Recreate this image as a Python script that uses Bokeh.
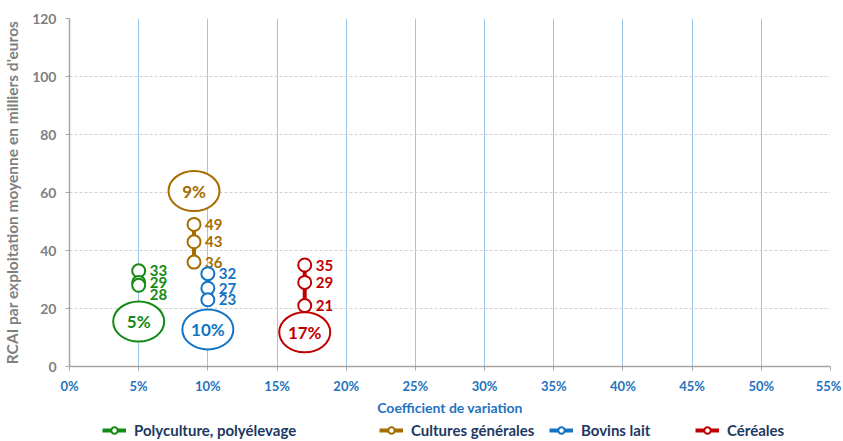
from bokeh.plotting import figure
from bokeh.layouts import column
from bokeh.models import (ColumnDataSource, Legend, LegendItem, FixedTicker,
                          NumeralTickFormatter, Range1d)
from bokeh.core.properties import value
from bokeh.embed import file_html
from bokeh.resources import INLINE

# ---- data ----
series = ["Polyculture, polyélevage", "Cultures générales", "Bovins lait", "Céréales"]
cv = [0.05, 0.09, 0.10, 0.17]
cv_labels = ["5%", "9%", "10%", "17%"]
rcai_high = [33, 49, 32, 35]
rcai_mid = [29, 43, 27, 29]
rcai_low = [28, 36, 23, 21]
x_ticks = [0, 0.05, 0.10, 0.15, 0.20, 0.25, 0.30, 0.35, 0.40, 0.45, 0.50, 0.55]
y_ticks = [0, 20, 40, 60, 80, 100, 120]

# ---- annotation placement / styles ----
bubble_y = [15.5, 60.5, 12.8, 11.8]
label_dy = [[0, 0, 9], [0, 0, 0], [0, 0, 0], [0, 0, 0]]
colors = ["#138A13", "#A66D00", "#1374C4", "#C00000"]
legend_x = [33, 310, 480, 626]
FONT = "Lato"
W = 841

p = figure(width=W, height=418, output_backend="svg", toolbar_location=None,
           x_range=Range1d(0, 0.55), y_range=Range1d(0, 120),
           min_border_left=67, min_border_right=11, min_border_top=18,
           min_border_bottom=40)
p.outline_line_color = None
p.background_fill_color = "white"

# grids
p.xgrid.ticker = FixedTicker(ticks=x_ticks)
p.ygrid.ticker = FixedTicker(ticks=y_ticks)
p.xgrid.grid_line_color = "#9CC5E8"
p.xgrid.grid_line_width = 1
p.ygrid.grid_line_color = "#D0D0D0"
p.ygrid.grid_line_dash = "3 2"

# axes
xa = p.xaxis[0]
xa.ticker = FixedTicker(ticks=x_ticks)
xa.formatter = NumeralTickFormatter(format="0%")
xa.axis_label = "Coefficient de variation"
xa.axis_label_text_font = FONT
xa.axis_label_text_font_style = "bold"
xa.axis_label_text_font_size = "14px"
xa.axis_label_text_color = "#2373BE"
xa.axis_label_standoff = 2
xa.major_label_text_font = FONT
xa.major_label_text_font_style = "bold"
xa.major_label_text_font_size = "13px"
xa.major_label_text_color = "#2373BE"
xa.major_label_standoff = 7

ya = p.yaxis[0]
ya.ticker = FixedTicker(ticks=y_ticks)
ya.axis_label = "RCAI par exploitation moyenne en milliers d'euros"
ya.axis_label_text_font = FONT
ya.axis_label_text_font_style = "bold"
ya.axis_label_text_font_size = "15.5px"
ya.axis_label_text_color = "#7F7F7F"
ya.axis_label_standoff = 8
ya.major_label_text_font = FONT
ya.major_label_text_font_style = "bold"
ya.major_label_text_font_size = "14px"
ya.major_label_text_color = "#7F7F7F"
ya.major_label_standoff = 9

for ax in (xa, ya):
    ax.axis_line_color = "#A6A6A6"
    ax.axis_line_width = 1.5
    ax.major_tick_line_color = "#A6A6A6"
    ax.major_tick_out = 4
    ax.major_tick_in = 0
    ax.minor_tick_line_color = None

# legend strip
pl = figure(width=W, height=21, output_backend="svg", toolbar_location=None,
            x_range=Range1d(0, 1), y_range=Range1d(0, 1),
            x_axis_location=None, y_axis_location=None,
            min_border_left=0, min_border_right=0, min_border_top=0,
            min_border_bottom=0)
pl.outline_line_color = None
pl.xgrid.visible = False
pl.ygrid.visible = False

for i, name in enumerate(series):
    c = colors[i]
    vals = [rcai_high[i], rcai_mid[i], rcai_low[i]]
    src = ColumnDataSource(dict(x=[cv[i]] * 3, y=vals, t=[str(v) for v in vals],
                                dy=label_dy[i]))
    p.line("x", "y", source=src, line_color=c, line_width=4)
    p.scatter("x", "y", source=src, marker="circle", size=13,
              fill_color="white", line_color=c, line_width=2)
    p.text("x", "y", text="t", source=src, x_offset=11, y_offset="dy",
           text_align="left", text_baseline="middle", text_color=c,
           text_font=value(FONT), text_font_style="bold", text_font_size="15px")
    bsrc = ColumnDataSource(dict(x=[cv[i]], y=[bubble_y[i]], t=[cv_labels[i]]))
    p.ellipse("x", "y", source=bsrc, width=51, height=40, width_units="screen",
              height_units="screen", fill_color="white", line_color=c, line_width=2)
    p.text("x", "y", text="t", source=bsrc, text_align="center",
           text_baseline="middle", text_color=c, text_font=value(FONT),
           text_font_style="bold", text_font_size="17px")

    # legend proxies (one point placed outside the visible range)
    proxy = ColumnDataSource(dict(x=[-5], y=[-5]))
    lr = pl.line("x", "y", source=proxy, line_color=c, line_width=4)
    sr = pl.scatter("x", "y", source=proxy, marker="circle", size=11,
                    fill_color="white", line_color=c, line_width=2)
    lg = Legend(items=[LegendItem(label=name, renderers=[lr, sr])],
                location=(legend_x[i], 0), orientation="horizontal",
                padding=0, margin=0, glyph_width=24, glyph_height=16,
                label_height=16, label_standoff=8, border_line_color=None,
                background_fill_alpha=0,
                label_text_font=FONT, label_text_font_style="bold",
                label_text_font_size="15px", label_text_color="#203864")
    pl.add_layout(lg, "center")

open("out.html", "w").write(file_html(column(p, pl, spacing=0), INLINE))
